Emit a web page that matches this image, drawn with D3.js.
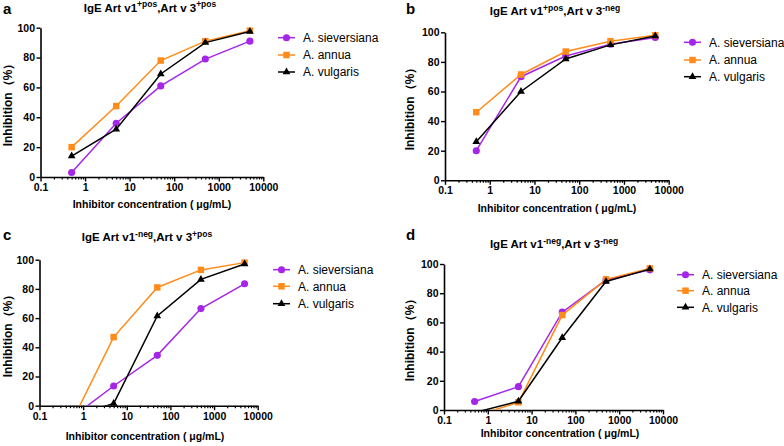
<!DOCTYPE html>
<html><head><meta charset="utf-8">
<script src="https://cdn.jsdelivr.net/npm/d3@7"></script>
<style>
html,body{margin:0;padding:0;background:#fff;}
svg{display:block;font-family:"Liberation Sans",Arial,sans-serif;}
</style>
</head><body>
<svg id="chart" width="784" height="446"></svg>
<script>
// ---- data ----
const concentrations = [0.5, 5, 50, 500, 5000];
const xTickValues = [0.1, 1, 10, 100, 1000, 10000];
const xTickLabels = ["0.1", "1", "10", "100", "1000", "10000"];
const yTickValues = [0, 20, 40, 60, 80, 100];
const seriesNames = ["A. sieversiana", "A. annua", "A. vulgaris"];
const panelLetters = ["a", "b", "c", "d"];
const titleSupV1 = ["+pos", "+pos", "-neg", "-neg"];
const titleSupV3 = ["+pos", "-neg", "+pos", "-neg"];

const aSieversiana = [3, 36, 61, 79, 91];
const aAnnua       = [20, 47.5, 78, 91, 98];
const aVulgaris    = [14, 32, 69, 90, 97.5];

const bSieversiana = [20, 70, 84, 92, 96.5];
const bAnnua       = [46, 71.5, 87, 94, 98];
const bVulgaris    = [26, 60, 82, 91.5, 97.5];

const cSieversiana = [-9, 13.5, 34.5, 66.5, 83.5];
const cAnnua       = [-13.5, 47, 81, 93, 98];
const cVulgaris    = [-8, 1.5, 61.5, 86.5, 97];

const dSieversiana = [5.8, 16, 67, 89, 96];
const dAnnua       = [-4.3, 5.3, 65, 89.5, 97];
const dVulgaris    = [-1.8, 6, 49.5, 88, 96.5];

const panelSeries = [
  [aSieversiana, aAnnua, aVulgaris],
  [bSieversiana, bAnnua, bVulgaris],
  [cSieversiana, cAnnua, cVulgaris],
  [dSieversiana, dAnnua, dVulgaris]
];

// ---- styles / layout ----
const colors = ["#a526e8", "#ff8b1a", "#000000"];
const shapes = [d3.symbolCircle, d3.symbolSquare, d3.symbolTriangle];
const symSizes = [40, 42, 26];

const layouts = [
  {x0: 40.5, x1: 263.3, y0: 177, y1: 27.7, letter: [3, 14], title: [150, 11.7], legX: 278, legY: [37.7, 55, 72], ylab: [8, 102], xlab: [152, 208]},
  {x0: 445, x1: 668.7, y0: 180.3, y1: 32.3, letter: [406, 14], title: [555, 15], legX: 684, legY: [42.3, 60, 76.7], ylab: [410, 106], xlab: [557, 212]},
  {x0: 39.5, x1: 257.7, y0: 405.7, y1: 259.7, letter: [3, 240], title: [147, 241], legX: 273, legY: [269.7, 286.3, 303.7], ylab: [8, 333], xlab: [145, 440]},
  {x0: 444, x1: 663, y0: 410, y1: 264, letter: [406, 240], title: [554, 248], legX: 677, legY: [274.7, 290.7, 307.3], ylab: [410, 337], xlab: [560, 437]}
];

const svg = d3.select("#chart");

function minorTicks() {
  const out = [];
  for (let e = -1; e < 4; e++) {
    for (let k = 2; k <= 9; k++) out.push(k * Math.pow(10, e));
  }
  return out;
}

layouts.forEach((L, pi) => {
  const g = svg.append("g");
  const x = d3.scaleLog().domain([0.1, 10000]).range([L.x0, L.x1]);
  const y = d3.scaleLinear().domain([0, 100]).range([L.y0, L.y1]);

  // clip so negative values are cut at the x axis
  const clipId = "clip" + pi;
  svg.append("clipPath").attr("id", clipId).append("rect")
    .attr("x", L.x0 - 5).attr("y", L.y1 - 20)
    .attr("width", L.x1 - L.x0 + 10).attr("height", L.y0 - L.y1 + 20);

  // x axis: minor ticks
  const xMinor = d3.axisBottom(x).tickValues(minorTicks()).tickSize(2.5).tickFormat("");
  g.append("g").attr("transform", `translate(0,${L.y0})`).call(xMinor)
    .call(s => s.select(".domain").remove())
    .selectAll("line").attr("stroke", "#000").attr("stroke-width", 1.2);

  // x axis major
  const xAxis = d3.axisBottom(x).tickValues(xTickValues).tickSize(4.5).tickSizeOuter(0)
    .tickFormat((d, i) => xTickLabels[i]);
  const gx = g.append("g").attr("transform", `translate(0,${L.y0})`).call(xAxis);
  gx.select(".domain").attr("stroke", "#000").attr("stroke-width", 1.6);
  gx.selectAll(".tick line").attr("stroke", "#000").attr("stroke-width", 1.4);
  gx.selectAll(".tick text").attr("font-size", 10.5).attr("font-weight", "bold")
    .attr("font-family", "Liberation Sans, Arial, sans-serif").attr("fill", "#000").attr("dy", "0.75em").attr("y", 6);

  // y axis
  const yAxis = d3.axisLeft(y).tickValues(yTickValues).tickSize(4).tickSizeOuter(0);
  const gy = g.append("g").attr("transform", `translate(${L.x0},0)`).call(yAxis);
  gy.select(".domain").attr("stroke", "#000").attr("stroke-width", 1.6);
  gy.selectAll(".tick line").attr("stroke", "#000").attr("stroke-width", 1.4);
  gy.selectAll(".tick text").attr("font-size", 10.5).attr("font-weight", "bold")
    .attr("font-family", "Liberation Sans, Arial, sans-serif").attr("fill", "#000").attr("x", -5.5);

  // series
  panelSeries[pi].forEach((vals, si) => {
    const pts = concentrations.map((c, i) => ({c, v: vals[i]}));
    const line = d3.line().x(d => x(d.c)).y(d => y(d.v));
    g.append("path").datum(pts).attr("d", line)
      .attr("fill", "none").attr("stroke", colors[si]).attr("stroke-width", 1.5)
      .attr("clip-path", `url(#${clipId})`);
    g.selectAll(null).data(pts.filter(d => d.v >= 0)).join("path")
      .attr("transform", d => `translate(${x(d.c)},${y(d.v)})`)
      .attr("d", d3.symbol().type(shapes[si]).size(symSizes[si]))
      .attr("fill", colors[si]);
  });

  // legend
  seriesNames.forEach((name, si) => {
    const ly = L.legY[si];
    g.append("line").attr("x1", L.legX).attr("x2", L.legX + 17).attr("y1", ly).attr("y2", ly)
      .attr("stroke", colors[si]).attr("stroke-width", 1.5);
    g.append("path").attr("transform", `translate(${L.legX + 8.5},${ly})`)
      .attr("d", d3.symbol().type(shapes[si]).size(symSizes[si]))
      .attr("fill", colors[si]);
    g.append("text").attr("x", L.legX + 25).attr("y", ly).attr("dy", "0.35em")
      .attr("font-size", 12).attr("fill", "#000").text(name);
  });

  // panel letter
  g.append("text").attr("x", L.letter[0]).attr("y", L.letter[1])
    .attr("font-size", 15).attr("font-weight", "bold").text(panelLetters[pi]);

  // title
  const t = g.append("text").attr("x", L.title[0]).attr("y", L.title[1])
    .attr("text-anchor", "middle").attr("font-size", 11.5).attr("font-weight", "bold");
  t.append("tspan").text("IgE Art v1");
  t.append("tspan").attr("font-size", 8.5).attr("dy", -4.5).text(titleSupV1[pi]);
  t.append("tspan").attr("dy", 4.5).text(",Art v 3");
  t.append("tspan").attr("font-size", 8.5).attr("dy", -4.5).text(titleSupV3[pi]);

  // y label
  g.append("text").attr("transform", `translate(${L.ylab[0]},${L.ylab[1]}) rotate(-90)`)
    .attr("text-anchor", "middle").attr("dy", "0.35em")
    .attr("font-size", 12).attr("font-weight", "bold").text("Inhibition（%）");

  // x label
  g.append("text").attr("x", L.xlab[0]).attr("y", L.xlab[1])
    .attr("text-anchor", "middle").attr("font-size", 10.5).attr("font-weight", "bold")
    .text("Inhibitor concentration ( μg/mL)");
});
</script>
</body></html>
